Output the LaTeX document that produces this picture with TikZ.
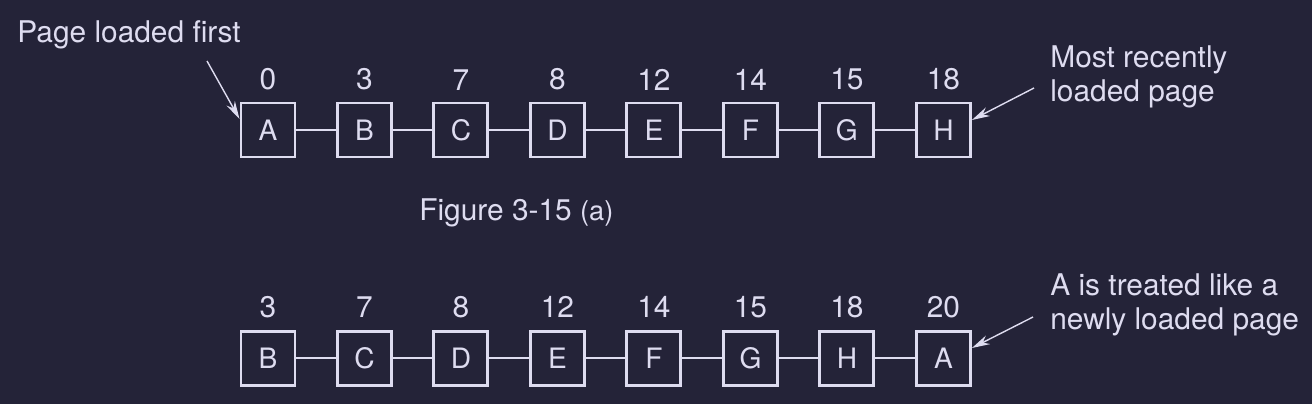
\documentclass[tikz,border=0pt]{standalone}
\usepackage{fontspec}
\setmainfont{TeX Gyre Heros}
\usepackage{tikz}
\usetikzlibrary{arrows.meta}
\usetikzlibrary{positioning}
\definecolor{bgnavy}{RGB}{36,35,56}
\definecolor{ink}{RGB}{222,220,240}
\tikzset{
    page/.style={
           rectangle,
           draw=ink, line width=1.7pt,
           minimum size=1.08cm,
           inner sep=0pt,
           text=ink,
           font=\fontsize{16}{19}\selectfont,
           },
}
\tikzset{
    num/.style={
           inner sep=0pt,
           text=ink,
           },
}
\tikzset{
    note/.style={
           align=left,
           inner sep=0pt,
           text=ink,
           anchor=base west,
           },
}
\tikzset{
    link/.style={draw=ink, line width=1.2pt},
    pointer/.style={draw=ink, line width=0.8pt, -{Stealth[length=0.36cm,width=0.19cm]}},
}

\begin{document}
\begin{tikzpicture}[font=\fontsize{17}{19.3}\selectfont]
\fill[bgnavy] (0,0) rectangle (26.24,-8.08);
\useasboundingbox (0,0) rectangle (26.24,-8.08);
% (a) pages in load order
\node[page](p1) at (5.36,-2.6){A};
\node[page,right = 0.79cm of p1](p2){B};
\node[page,right = 0.79cm of p2](p3){C};
\node[page,right = 0.79cm of p3](p4){D};
\node[page,right = 0.79cm of p4](p5){E};
\node[page,right = 0.79cm of p5](p6){F};
\node[page,right = 0.79cm of p6](p7){G};
\node[page,right = 0.79cm of p7](p8){H};
\node[num,above = 0.22cm of p1](t1){0};
\node[num,above = 0.22cm of p2](t2){3};
\node[num,above = 0.22cm of p3](t3){7};
\node[num,above = 0.22cm of p4](t4){8};
\node[num,above = 0.22cm of p5](t5){12};
\node[num,above = 0.22cm of p6](t6){14};
\node[num,above = 0.22cm of p7](t7){15};
\node[num,above = 0.22cm of p8](t8){18};
\draw[link] (p1) -- (p2) (p2) -- (p3) (p3) -- (p4) (p4) -- (p5);
\draw[link] (p5) -- (p6) (p6) -- (p7) (p7) -- (p8);
\node[note](first) at (0.34,-0.84){Page loaded first};
\node[note](recent) at (21.0,-2.02){Most recently\\loaded page};
\coordinate (firsttail) at (4.14,-1.22);
\coordinate (recenttail) at (20.68,-1.76);
\draw[pointer] (firsttail) -- ([yshift=0.22cm]p1.west);
\draw[pointer] (recenttail) -- ([yshift=0.2cm]p8.east);
\node[note](figa) at (8.38,-4.4){Figure 3-15 {\fontsize{15.5}{17}\selectfont(a)}};
% (b) A moved to the end
\node[page](q1) at (5.36,-7.16){B};
\node[page,right = 0.79cm of q1](q2){C};
\node[page,right = 0.79cm of q2](q3){D};
\node[page,right = 0.79cm of q3](q4){E};
\node[page,right = 0.79cm of q4](q5){F};
\node[page,right = 0.79cm of q5](q6){G};
\node[page,right = 0.79cm of q6](q7){H};
\node[page,right = 0.79cm of q7](q8){A};
\node[num,above = 0.23cm of q1](s1){3};
\node[num,above = 0.23cm of q2](s2){7};
\node[num,above = 0.23cm of q3](s3){8};
\node[num,above = 0.23cm of q4](s4){12};
\node[num,above = 0.23cm of q5](s5){14};
\node[num,above = 0.23cm of q6](s6){15};
\node[num,above = 0.23cm of q7](s7){18};
\node[num,above = 0.23cm of q8](s8){20};
\draw[link] (q1) -- (q2) (q2) -- (q3) (q3) -- (q4) (q4) -- (q5);
\draw[link] (q5) -- (q6) (q6) -- (q7) (q7) -- (q8);
\node[note](newly) at (21.0,-6.58){A is treated like a\\newly loaded page};
\coordinate (newlytail) at (20.66,-6.34);
\draw[pointer] (newlytail) -- ([yshift=0.2cm]q8.east);
\end{tikzpicture}
\end{document}
